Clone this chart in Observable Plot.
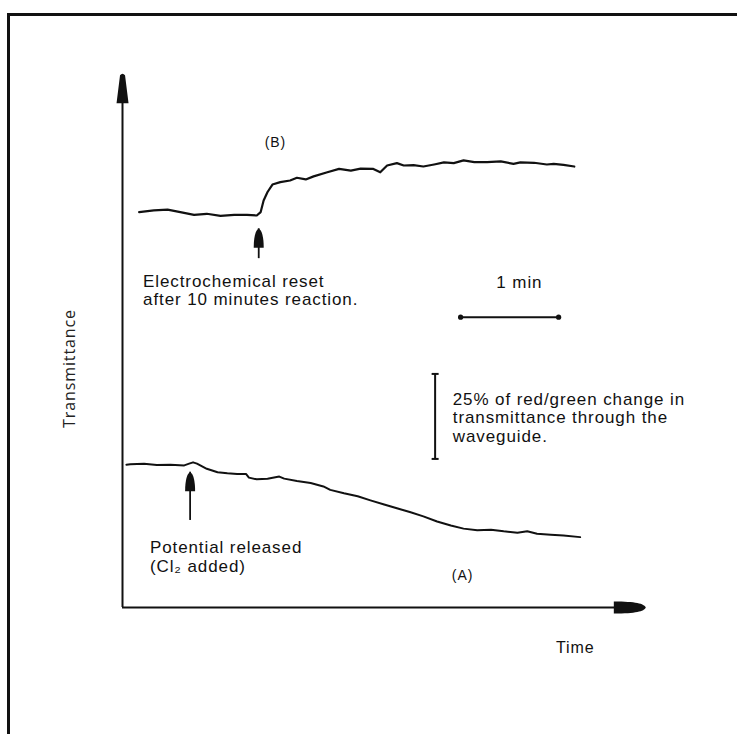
<!DOCTYPE html>
<html>
<head>
<meta charset="utf-8">
<script src="https://cdn.jsdelivr.net/npm/d3@7"></script>
<script src="https://cdn.jsdelivr.net/npm/@observablehq/plot@0.6"></script>
<style>
  html, body { margin: 0; padding: 0; background: #fff; overflow: hidden; }
  #wrap { position: relative; width: 737px; height: 734px; }
  #border { position: absolute; left: 7px; top: 13px; right: -10px; bottom: -10px;
            border-top: 3px solid #111; border-left: 3px solid #111; pointer-events: none; }
  g[aria-label="text"] text { letter-spacing: 0.9px; }
</style>
</head>
<body>
<div id="wrap"><div id="border"></div></div>
<script>
// ---- Curve (B): electrochemical reset after 10 minutes reaction ----
const timeB = [0.17,0.32,0.46,0.59,0.73,0.86,1.00,1.14,1.27,1.37,1.41,1.44,1.48,1.53,1.61,1.71,1.78,1.87,1.95,2.09,2.21,2.33,2.43,2.56,2.63,2.70,2.80,2.87,2.97,3.07,3.18,3.28,3.38,3.48,3.59,3.72,3.86,3.99,4.06,4.20,4.33,4.40,4.50,4.61];
const transB = [116.3,116.8,117.0,116.3,115.5,115.8,115.2,115.5,115.5,115.3,116.3,119.7,122.2,124.4,125.1,125.6,126.4,125.9,126.8,128.0,129.0,128.5,129.1,129.0,128.0,130.0,130.7,130.0,130.1,129.7,130.3,130.9,130.7,131.5,131.0,131.0,131.2,130.5,130.9,130.8,130.3,130.5,130.2,129.7];

// ---- Curve (A): potential released (Cl2 added) ----
const timeA = [0.04,0.08,0.22,0.35,0.49,0.63,0.68,0.72,0.76,0.86,0.97,1.07,1.17,1.26,1.29,1.37,1.48,1.56,1.60,1.65,1.78,1.92,2.05,2.12,2.26,2.40,2.53,2.67,2.80,2.94,3.07,3.21,3.35,3.48,3.62,3.76,3.89,4.03,4.13,4.23,4.37,4.50,4.67];
const transA = [42.0,42.1,42.3,41.9,42.0,41.8,42.3,42.7,42.3,40.8,39.8,39.5,39.3,39.3,38.2,37.7,37.9,38.3,38.5,37.9,37.2,36.6,35.6,34.6,33.6,32.7,31.5,30.3,29.2,28.0,26.8,25.3,24.1,23.2,22.7,22.9,22.4,22.0,22.4,21.7,21.4,21.2,20.7];

// ---- Event arrows (minutes, arrow tip / tail in transmittance units) ----
const eventTime = [1.39, 0.69];
const eventTip  = [111.4, 39.8];
const eventTail = [102.6, 25.6];

// ---- Scale bars ----
const minuteBarTime = [3.45, 4.45];   // 1 min
const minuteBarLevel = 85.4;
const percentBarTime = 3.19;
const percentBarLevel = [43.7, 68.7]; // 25 %

// ---- Axis extents ----
const axisEndTime = 5.34;
const axisEndTrans = 157.1;

// ---- Labels ----
const labelB = {text: "(B)", t: 1.56, T: 135.3};
const labelA = {text: "(A)", t: 3.47, T: 8.2};
const labelReset = {text: "Electrochemical reset\nafter 10 minutes reaction.", t: 0.21, T: 97.9};
const labelRelease = {text: "Potential released\n(Cl\u2082 added)", t: 0.28, T: 19.7};
const labelMinute = {text: "1 min", t: 4.05, T: 94.1};
const labelPercent = {text: "25% of red/green change in\ntransmittance through the\nwaveguide.", t: 3.37, T: 63.5};
const labelTime = {text: "Time", t: 4.62, T: -13.5};
const labelTrans = {text: "Transmittance", t: -0.54, T: 70.3};

const curveB = timeB.map((t, i) => ({t, T: transB[i]}));
const curveA = timeA.map((t, i) => ({t, T: transA[i]}));
const events = eventTime.map((t, i) => ({t, tip: eventTip[i], tail: eventTail[i]}));

// custom arrowhead symbols (tip at the data point)
const headUpAxis = {draw(c) { c.moveTo(-2.5, 2); c.quadraticCurveTo(0, -1, 2.5, 2); c.lineTo(6, 30); c.lineTo(-6, 30); c.closePath(); }};
const headRightAxis = {draw(c) { c.moveTo(0, 0); c.bezierCurveTo(-2, -4, -10, -6, -32, -6); c.lineTo(-32, 6); c.bezierCurveTo(-10, 6, -2, 4, 0, 0); c.closePath(); }};
const headUpEvent = {draw(c) { c.moveTo(0, 0); c.bezierCurveTo(3, 1, 5, 8, 5, 19); c.lineTo(-5, 19); c.bezierCurveTo(-5, 8, -3, 1, 0, 0); c.closePath(); }};
const serif = {draw(c) { c.moveTo(-3.5, 0); c.lineTo(3.5, 0); }};

const font = "'Liberation Sans', Arial, Helvetica, sans-serif";
const ink = "#111";

const chart = Plot.plot({
  width: 737,
  height: 734,
  margin: 0,
  x: {domain: [-122 / 98, 615 / 98], axis: null},
  y: {domain: [-127 / 3.4, 607 / 3.4], axis: null},
  style: {background: "transparent"},
  marks: [
    // axes
    Plot.ruleX([0], {x: 0, y1: 0, y2: axisEndTrans - 2, stroke: ink, strokeWidth: 2}),
    Plot.ruleY([0], {y: 0, x1: 0, x2: axisEndTime - 0.05, stroke: ink, strokeWidth: 2}),
    Plot.dot([0], {x: 0, y: axisEndTrans, symbol: headUpAxis, fill: ink, stroke: "none"}),
    Plot.dot([0], {x: axisEndTime, y: 0, symbol: headRightAxis, fill: ink, stroke: "none"}),
    // curves
    Plot.line(curveB, {x: "t", y: "T", stroke: ink, strokeWidth: 2.2, strokeLinejoin: "round"}),
    Plot.line(curveA, {x: "t", y: "T", stroke: ink, strokeWidth: 2, strokeLinejoin: "round"}),
    // event arrows
    Plot.ruleX(events, {x: "t", y1: "tip", y2: "tail", stroke: ink, strokeWidth: 1.8}),
    Plot.dot(events, {x: "t", y: "tip", symbol: headUpEvent, fill: ink, stroke: "none"}),
    // 1 minute scale bar
    Plot.ruleY([minuteBarLevel], {x1: minuteBarTime[0], x2: minuteBarTime[1], stroke: ink, strokeWidth: 2}),
    Plot.dot(minuteBarTime, {x: d => d, y: minuteBarLevel, r: 2.6, fill: ink, stroke: "none"}),
    // 25 % scale bar
    Plot.ruleX([percentBarTime], {y1: percentBarLevel[0], y2: percentBarLevel[1], stroke: ink, strokeWidth: 2}),
    Plot.dot(percentBarLevel, {x: percentBarTime, y: d => d, symbol: serif, stroke: ink, strokeWidth: 2, fill: "none"}),
    // labels
    Plot.text([labelB], {x: "t", y: "T", text: "text", fontSize: 14, fontFamily: font, fill: ink, textAnchor: "middle", lineAnchor: "bottom"}),
    Plot.text([labelA], {x: "t", y: "T", text: "text", fontSize: 14, fontFamily: font, fill: ink, textAnchor: "middle", lineAnchor: "bottom"}),
    Plot.text([labelReset], {x: "t", y: "T", text: "text", fontSize: 17, fontFamily: font, fill: ink, textAnchor: "start", lineAnchor: "top", lineHeight: 1.06}),
    Plot.text([labelRelease], {x: "t", y: "T", text: "text", fontSize: 17, fontFamily: font, fill: ink, textAnchor: "start", lineAnchor: "top", lineHeight: 1.07}),
    Plot.text([labelMinute], {x: "t", y: "T", text: "text", fontSize: 17, fontFamily: font, fill: ink, textAnchor: "middle", lineAnchor: "bottom"}),
    Plot.text([labelPercent], {x: "t", y: "T", text: "text", fontSize: 17, fontFamily: font, fill: ink, textAnchor: "start", lineAnchor: "top", lineHeight: 1.09}),
    Plot.text([labelTime], {x: "t", y: "T", text: "text", fontSize: 16, fontFamily: font, fill: ink, textAnchor: "middle", lineAnchor: "bottom"}),
    Plot.text([labelTrans], {x: "t", y: "T", text: "text", fontSize: 16, fontFamily: "'Open Sans', 'Noto Sans', sans-serif", fill: "#222", rotate: -90, textAnchor: "middle", lineAnchor: "middle", ariaLabel: "ylabel"})
  ]
});
document.getElementById("wrap").prepend(chart);
</script>
</body>
</html>
